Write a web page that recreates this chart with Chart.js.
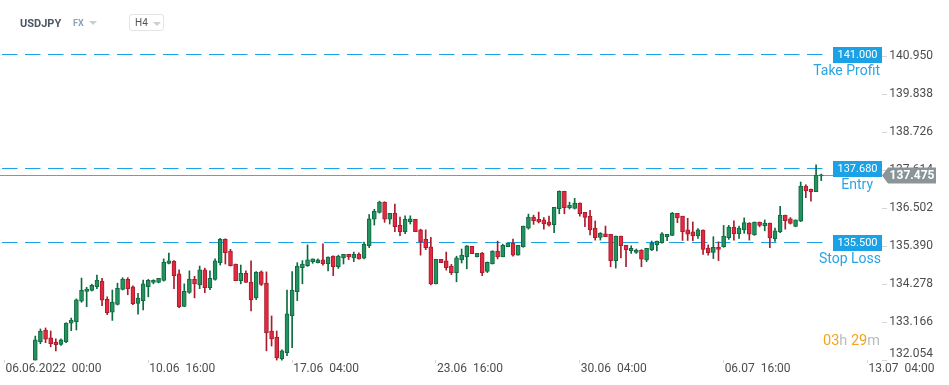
<!DOCTYPE html>
<html>
<head>
<meta charset="utf-8">
<script src="https://cdn.jsdelivr.net/npm/chart.js@4.4.1/dist/chart.umd.min.js"></script>
<style>
  body { margin: 0; background: #fff; font-family: Roboto, sans-serif; }
  #wrap { position: relative; width: 949px; height: 385px; overflow: hidden; }
  #priceChart { position: absolute; left: 0; top: 0; }
  .sym { position: absolute; left: 20px; top: 17px; font-size: 11px; line-height: 13px; font-weight: bold; color: #4b5864; }
  .fx { position: absolute; left: 73px; top: 18px; font-size: 9px; line-height: 11px; font-weight: bold; color: #8ea2b6; }
  .tri { position: absolute; width: 0; height: 0; border-left: 4px solid transparent; border-right: 4px solid transparent; border-top: 4px solid #c9ced3; }
  .tf { position: absolute; left: 129px; top: 14px; width: 35px; height: 17px; border: 1px solid #e2e4e6; border-radius: 3px; box-sizing: border-box; }
  .tf span { position: absolute; left: 5px; top: 2px; font-size: 10px; line-height: 12px; color: #555; }
</style>
</head>
<body>
<div id="wrap">
  <canvas id="priceChart" width="949" height="385"></canvas>
  <div class="sym">USDJPY</div>
  <div class="fx">FX</div>
  <div class="tri" style="left:89px;top:21px"></div>
  <div class="tf"><span>H4</span><div class="tri" style="left:23px;top:7px"></div></div>
</div>
<script>
// свечи H4, значения
const opens = [
  132.06, 132.60, 132.94, 132.71, 132.58, 132.52, 132.60, 133.14, 133.18, 133.78,
  134.07, 134.10, 134.21, 134.37, 133.84, 133.46, 133.69, 134.13, 134.42, 134.20,
  133.72, 133.80, 134.21, 134.33, 134.33, 134.39, 134.89, 134.95, 134.58, 133.63,
  134.04, 134.42, 134.26, 134.70, 134.18, 134.42, 134.91, 135.59, 135.25, 134.87,
  134.38, 134.60, 134.34, 133.88, 134.64, 134.31, 132.91, 132.73, 132.09, 132.28,
  133.36, 134.06, 134.76, 134.82, 134.94, 134.91, 134.99, 134.88, 135.10, 134.79,
  135.05, 135.15, 135.05, 135.15, 135.04, 135.41, 136.18, 136.38, 136.68, 136.18,
  136.35, 136.00, 135.82, 136.11, 136.18, 135.87, 135.59, 135.37, 134.29, 135.01,
  134.96, 134.81, 134.62, 134.99, 135.08, 135.39, 135.08, 135.19, 134.65, 134.87,
  135.25, 135.08, 135.38, 135.48, 135.13, 135.38, 135.92, 136.24, 136.18, 136.16,
  136.10, 136.02, 136.49, 137.00, 136.52, 136.50, 136.65, 136.38, 136.27, 135.92,
  135.65, 135.75, 135.74, 134.97, 135.69, 135.42, 135.26, 135.21, 135.28, 134.99,
  135.28, 135.43, 135.49, 135.67, 135.71, 136.35, 136.27, 135.87, 135.81, 135.69,
  135.86, 135.34, 135.21, 135.36, 135.38, 135.64, 135.95, 135.76, 135.87, 136.07,
  135.72, 136.10, 135.99, 136.07, 135.61, 135.82, 136.30, 136.19, 135.97, 136.12,
  137.15, 137.06, 136.99, 137.45
];
const highs = [
  132.76, 132.97, 133.00, 132.91, 132.68, 132.68, 133.15, 133.29, 133.85, 134.46,
  134.19, 134.28, 134.55, 134.45, 133.91, 134.11, 134.31, 134.47, 134.47, 134.23,
  134.01, 134.40, 134.42, 134.41, 134.45, 135.02, 135.19, 134.97, 134.70, 134.29,
  134.67, 134.51, 134.81, 134.75, 134.67, 135.02, 135.62, 135.61, 135.30, 134.87,
  134.84, 134.67, 134.96, 134.65, 134.67, 134.64, 133.35, 132.91, 132.36, 134.11,
  134.65, 134.91, 134.97, 135.43, 135.02, 135.02, 135.46, 135.08, 135.11, 135.13,
  135.15, 135.15, 135.22, 135.20, 135.51, 136.32, 136.47, 136.71, 136.69, 136.35,
  136.62, 136.24, 136.28, 136.28, 136.18, 135.89, 135.87, 135.65, 135.01, 135.01,
  135.22, 134.86, 135.10, 135.31, 135.41, 135.39, 135.18, 135.21, 134.93, 135.26,
  135.54, 135.45, 135.49, 135.60, 135.42, 135.98, 136.33, 136.30, 136.39, 136.23,
  136.27, 136.53, 137.01, 137.00, 136.68, 136.79, 136.66, 136.38, 136.44, 136.13,
  135.79, 135.98, 135.74, 135.69, 135.69, 135.42, 135.40, 135.31, 135.29, 135.33,
  135.54, 135.54, 135.79, 135.74, 136.38, 136.35, 136.27, 136.21, 136.10, 135.91,
  135.87, 135.43, 135.67, 135.52, 136.00, 136.00, 136.13, 135.98, 136.22, 136.08,
  136.10, 136.10, 136.16, 136.07, 135.92, 136.56, 136.30, 136.23, 136.16, 137.27,
  137.19, 137.06, 137.77, 137.50
];
const lows = [
  132.06, 132.54, 132.57, 132.45, 132.33, 132.49, 132.57, 132.92, 132.94, 133.75,
  133.62, 134.08, 134.15, 133.65, 133.39, 133.22, 133.67, 134.11, 133.97, 133.68,
  133.40, 133.53, 133.91, 134.29, 134.32, 134.37, 134.87, 134.15, 133.59, 133.62,
  134.01, 133.88, 134.15, 134.03, 134.12, 134.40, 134.84, 134.87, 134.81, 134.38,
  134.29, 134.33, 133.50, 133.83, 134.24, 132.33, 132.47, 132.06, 132.06, 132.19,
  132.42, 133.80, 134.29, 134.80, 134.89, 134.90, 134.84, 134.67, 134.53, 134.74,
  134.87, 135.00, 134.94, 135.01, 135.02, 135.35, 136.01, 136.36, 136.09, 136.04,
  135.82, 135.70, 135.76, 136.04, 135.82, 135.13, 135.29, 134.26, 134.29, 134.91,
  134.69, 134.56, 134.35, 134.90, 134.73, 135.17, 135.08, 134.53, 134.62, 134.87,
  135.02, 135.08, 135.38, 135.10, 135.13, 135.36, 135.89, 136.03, 136.07, 135.89,
  135.98, 135.79, 136.34, 136.34, 136.48, 136.48, 136.27, 135.96, 135.72, 135.57,
  135.57, 135.67, 134.79, 134.75, 135.05, 134.79, 135.18, 135.18, 134.79, 134.94,
  135.26, 135.25, 135.48, 135.55, 135.70, 136.08, 135.56, 135.56, 135.55, 135.62,
  135.15, 135.13, 135.03, 134.97, 135.36, 135.59, 135.57, 135.62, 135.77, 135.57,
  135.71, 135.96, 135.84, 135.35, 135.53, 135.79, 135.89, 136.04, 135.96, 136.11,
  136.81, 136.71, 136.99, 137.31
];
const closes = [
  132.65, 132.91, 132.67, 132.54, 132.51, 132.65, 133.14, 133.23, 133.82, 134.10,
  134.14, 134.25, 134.40, 133.81, 133.45, 133.76, 134.16, 134.43, 134.15, 133.71,
  133.87, 134.29, 134.39, 134.39, 134.45, 134.93, 134.96, 134.53, 133.62, 134.07,
  134.43, 134.29, 134.70, 134.18, 134.45, 134.96, 135.59, 135.20, 134.82, 134.38,
  134.60, 134.33, 133.83, 134.63, 134.27, 132.86, 132.68, 132.12, 132.33, 133.41,
  134.11, 134.81, 134.87, 134.99, 135.02, 134.99, 134.88, 135.07, 134.79, 135.10,
  135.15, 135.08, 135.15, 135.02, 135.45, 136.19, 136.41, 136.68, 136.18, 136.35,
  135.96, 135.82, 136.18, 136.19, 135.82, 135.52, 135.35, 134.29, 135.01, 134.91,
  134.76, 134.62, 135.05, 135.13, 135.40, 135.17, 135.18, 134.62, 134.92, 135.25,
  135.08, 135.42, 135.49, 135.13, 135.42, 135.98, 136.24, 136.14, 136.10, 136.04,
  136.01, 136.53, 137.00, 136.52, 136.59, 136.65, 136.34, 136.23, 135.87, 135.64,
  135.77, 135.67, 134.97, 135.69, 135.41, 135.29, 135.33, 135.28, 135.01, 135.33,
  135.48, 135.54, 135.75, 135.74, 136.35, 136.22, 135.82, 135.74, 135.69, 135.87,
  135.30, 135.20, 135.36, 135.30, 135.69, 135.95, 135.76, 135.92, 136.08, 135.74,
  136.10, 136.00, 136.07, 135.63, 135.84, 136.30, 136.14, 136.06, 136.16, 137.15,
  137.01, 136.98, 137.47, 137.475
];

// подписи осей
const xTickIndex = [-5, 23, 51, 79, 107, 135, 163];
const xTickLabels = ['06.06.2022  00:00', '10.06  16:00', '17.06  04:00', '23.06  16:00',
  '30.06  04:00', '06.07  16:00', '13.07  04:00'];
const yTicks = [132.054, 133.166, 134.278, 135.390, 136.502, 137.614, 138.726, 139.838, 140.950];

// уровни сделки
const takeProfit = 141.000;
const entryPrice = 137.680;
const stopLoss = 135.500;
const lastPrice = 137.475;
const countdown = ['03', 'h ', '29', 'm'];

const GREEN = '#24915f';
const GREEN_DARK = '#0e6a41';
const RED = '#e1293f';
const RED_DARK = '#a91c2d';
const BLUE = '#1ba2e6';

const isUp = i => closes[i] >= opens[i];
const bodies = opens.map((o, i) => ({ x: i + 1, y: [o, closes[i]] }));
const wicks = lows.map((l, i) => ({ x: i + 1, y: [l, highs[i]] }));

Chart.defaults.font.family = 'Roboto';

const levelsPlugin = {
    id: 'levels',
    beforeDatasetsDraw(chart) {
        const { ctx, chartArea, scales: { y } } = chart;
        const lineEnd = chartArea.right - 54;
        ctx.save();
        ctx.lineWidth = 1;
        ctx.strokeStyle = BLUE;
        ctx.setLineDash([15.5, 7.5]);
        ctx.lineDashOffset = 21;
        [takeProfit, entryPrice, stopLoss].forEach(v => {
            const py = Math.round(y.getPixelForValue(v)) + 0.5;
            ctx.beginPath();
            ctx.moveTo(chartArea.left, py);
            ctx.lineTo(lineEnd, py);
            ctx.stroke();
        });
        ctx.setLineDash([]);
        ctx.strokeStyle = '#8b9498';
        const py = Math.round(y.getPixelForValue(lastPrice)) + 0.5;
        ctx.beginPath();
        ctx.moveTo(chartArea.left, py);
        ctx.lineTo(lineEnd + 5, py);
        ctx.stroke();
        ctx.restore();
    },
    afterDraw(chart) {
        const { ctx, chartArea, scales: { y } } = chart;
        const right = chartArea.right;
        ctx.save();

        // подписи цен справа
        ctx.font = '12px Roboto';
        ctx.fillStyle = '#4d4d4d';
        ctx.textAlign = 'right';
        ctx.textBaseline = 'middle';
        yTicks.forEach(v => {
            const py = Math.min(y.getPixelForValue(v), chartArea.bottom - 6);
            ctx.fillText(v.toFixed(3), right + 51, py);
        });

        // текущая цена
        const ly = y.getPixelForValue(lastPrice);
        ctx.fillStyle = '#8b9599';
        ctx.beginPath();
        ctx.moveTo(right, ly + 0.5);
        ctx.lineTo(right + 6, ly - 7.5);
        ctx.lineTo(right + 54, ly - 7.5);
        ctx.lineTo(right + 54, ly + 8.5);
        ctx.lineTo(right + 6, ly + 8.5);
        ctx.closePath();
        ctx.fill();
        ctx.fillStyle = '#fff';
        ctx.font = 'bold 12px Roboto';
        ctx.textAlign = 'center';
        ctx.fillText(lastPrice.toFixed(3), right + 30, ly + 1);

        // плашки уровней
        const levels = [
            { v: takeProfit, text: 'Take Profit', tx: right - 2 },
            { v: entryPrice, text: 'Entry', tx: right - 9 },
            { v: stopLoss, text: 'Stop Loss', tx: right - 1 }
        ];
        levels.forEach(l => {
            const py = Math.round(y.getPixelForValue(l.v));
            ctx.fillStyle = BLUE;
            ctx.fillRect(right - 49, py - 7, 49, 16);
            ctx.fillStyle = '#fff';
            ctx.font = '11px Roboto';
            ctx.textAlign = 'center';
            ctx.fillText(l.v.toFixed(3), right - 24.5, py + 1);
            ctx.fillStyle = '#29a5e3';
            ctx.font = '14px Roboto';
            ctx.textAlign = 'right';
            ctx.fillText(l.text, l.tx, py + 17);
        });

        // таймер свечи
        ctx.font = '14.5px Roboto';
        ctx.textAlign = 'left';
        let cx = right - 59;
        countdown.forEach((part, i) => {
            ctx.fillStyle = i % 2 === 0 ? '#f5a31c' : '#b9bcbf';
            ctx.fillText(part, cx, chartArea.bottom - 19);
            cx += ctx.measureText(part).width;
        });
        ctx.restore();
    }
};

const ctx = document.getElementById('priceChart').getContext('2d');
const chart = new Chart(ctx, {
    type: 'bar',
    data: {
        datasets: [
            {
                data: bodies,
                order: 1,
                grouped: false,
                clip: false,
                barThickness: 4,
                minBarLength: 1,
                borderWidth: 1,
                borderSkipped: false,
                backgroundColor: c => isUp(c.dataIndex) ? GREEN : RED,
                borderColor: c => isUp(c.dataIndex) ? GREEN_DARK : RED_DARK
            },
            {
                data: wicks,
                order: 2,
                grouped: false,
                clip: false,
                barThickness: 1,
                borderWidth: 0,
                backgroundColor: c => isUp(c.dataIndex) ? GREEN_DARK : RED_DARK
            }
        ]
    },
    options: {
        responsive: false,
        animation: false,
        events: [],
        layout: { padding: { top: 40, left: 0, right: 0, bottom: 0 } },
        plugins: {
            legend: { display: false },
            tooltip: { enabled: false }
        },
        scales: {
            x: {
                type: 'linear',
                bounds: 'data',
                offset: false,
                min: -5.87,
                max: 165.83,
                afterBuildTicks: scale => {
                    scale.ticks = xTickIndex.map(v => ({ value: v }));
                },
                afterFit: scale => {
                    scale.height = 25;
                    scale.paddingLeft = 0;
                    scale.paddingRight = 0;
                },
                grid: { offset: false, drawOnChartArea: false, drawTicks: true, tickLength: 3, color: '#d6d6d6' },
                border: { display: false },
                ticks: {
                    autoSkip: false,
                    maxRotation: 0,
                    align: 'start',
                    labelOffset: 1,
                    padding: -1,
                    color: '#4d4d4d',
                    font: { size: 12 },
                    callback: (value, index) => xTickLabels[index]
                }
            },
            y: {
                type: 'linear',
                position: 'right',
                bounds: 'data',
                min: 132.062,
                max: 141.424,
                afterBuildTicks: scale => {
                    scale.ticks = yTicks.map(v => ({ value: v }));
                },
                afterFit: scale => {
                    scale.width = 67;
                    scale.paddingTop = 0;
                    scale.paddingBottom = 0;
                },
                grid: { drawOnChartArea: false, drawTicks: true, tickLength: 5, color: '#d6d6d6' },
                border: { display: false },
                ticks: { display: false }
            }
        }
    },
    plugins: [levelsPlugin]
});
</script>
</body>
</html>
